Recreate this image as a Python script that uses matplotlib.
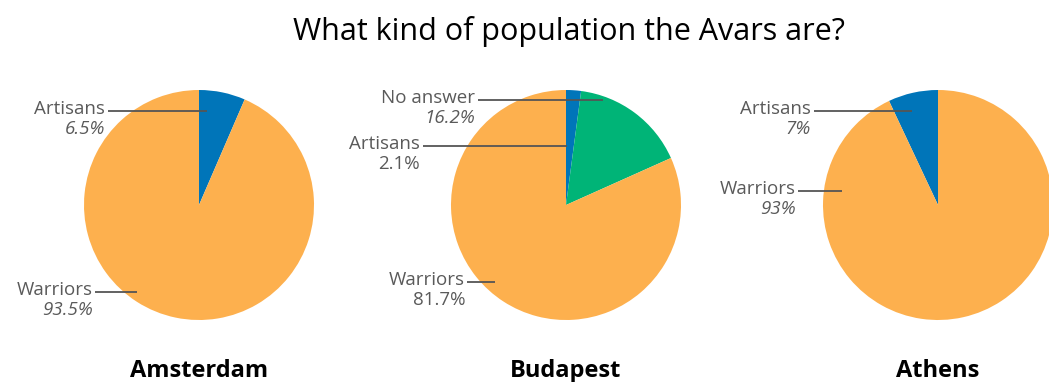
import matplotlib
matplotlib.use("Agg")
import matplotlib.pyplot as plt

plt.rcParams['font.family'] = ['Open Sans', 'DejaVu Sans']

# survey shares per city (percent), ordered from the top of each pie
cities = ["Amsterdam", "Budapest", "Athens"]
amsterdam_labels = ["Artisans", "Warriors"]
amsterdam_values = [6.5, 93.5]
budapest_labels = ["Artisans", "No answer", "Warriors"]
budapest_values = [2.1, 16.2, 81.7]
athens_labels = ["Artisans", "Warriors"]
athens_values = [7, 93]

colors = {"Artisans": "#0075b9", "No answer": "#00b477", "Warriors": "#fdb04e"}
text_col = "#5a5a5a"

W, H = 1049, 382
fig = plt.figure(figsize=(W / 100, H / 100), dpi=100)
ax = fig.add_axes([0, 0, 1, 1])

R = 115

def pie(cx, cy, labels, values, ccw):
    ax.pie(values, colors=[colors[l] for l in labels], startangle=90,
           counterclock=ccw, center=(cx, H - cy), radius=R,
           wedgeprops=dict(linewidth=0))

pie(199, 205, amsterdam_labels, amsterdam_values, False)
pie(566, 205, budapest_labels, budapest_values, False)
pie(938, 205, athens_labels, athens_values, True)

def callout(name, pct, tx, ty, x1, x2, italic=True):
    # label name + value, right aligned, with a leader line into the pie
    ax.text(tx, H - ty, name, ha="right", va="baseline", fontsize=13.5,
            color=text_col)
    ax.text(tx, H - ty - 20, pct, ha="right", va="baseline", fontsize=13.5,
            color=text_col, style="italic" if italic else "normal")
    ax.plot([x1, x2], [H - ty + 3, H - ty + 3], color="#555555", lw=1.3,
            solid_capstyle="butt")

callout("Artisans", f"{amsterdam_values[0]}%", 105, 114, 108, 207)
callout("Warriors", f"{amsterdam_values[1]}%", 93, 295, 95, 137)

callout("No answer", f"{budapest_values[1]}%", 475, 103, 478, 603)
callout("Artisans", f"{budapest_values[0]}%", 420, 149, 423, 567, italic=False)
callout("Warriors", f"{budapest_values[2]}%", 465, 285, 467, 495, italic=False)

callout("Artisans", f"{athens_values[0]}%", 811, 114, 814, 912)
callout("Warriors", f"{athens_values[1]}%", 796, 194, 798, 842)

for name, cx in zip(cities, [199, 566, 938]):
    ax.text(cx, H - 377, name, ha="center", va="baseline", fontsize=17,
            fontweight="bold", color="black")

ax.text(569, H - 40, "What kind of population the Avars are?", ha="center",
        va="baseline", fontsize=22, color="black")

ax.set_xlim(0, W)
ax.set_ylim(0, H)
ax.set_aspect("auto")
ax.axis("off")

fig.savefig("out.png", dpi=100)
